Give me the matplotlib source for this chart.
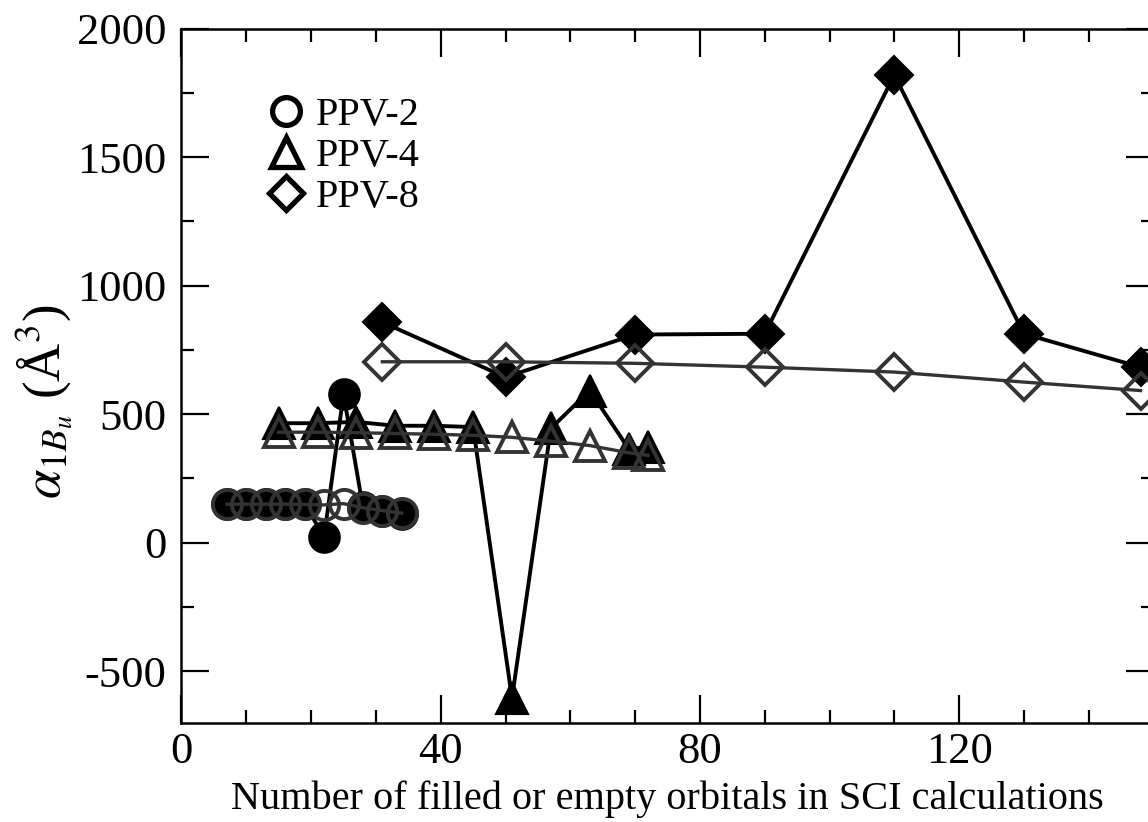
import matplotlib
matplotlib.use("Agg")
import matplotlib.pyplot as plt
from matplotlib.lines import Line2D
from matplotlib.ticker import MultipleLocator

plt.rcParams['font.family'] = ['Liberation Serif', 'DejaVu Serif']
plt.rcParams['mathtext.fontset'] = 'stix'
plt.rcParams['axes.unicode_minus'] = False

# PPV-2 (circles)
ppv2_x = [7, 10, 13, 16, 19, 22, 25, 28, 31, 34]
ppv2_filled = [152, 152, 152, 152, 152, 22, 578, 138, 125, 112]
ppv2_open = [150, 150, 150, 150, 149, 147, 152, 136, 125, 115]

# PPV-4 (triangles)
ppv4_x = [15, 21, 27, 33, 39, 45, 51, 57, 63, 69, 72]
ppv4_filled = [465, 465, 470, 455, 455, 450, -605, 445, 592, 366, 371]
ppv4_open = [430, 430, 428, 425, 422, 418, 410, 395, 378, 350, 340]

# PPV-8 (diamonds)
ppv8_x = [31, 50, 70, 90, 110, 130, 148]
ppv8_filled = [858, 644, 810, 813, 1820, 813, 683]
ppv8_open = [704, 704, 698, 683, 664, 625, 592]

legend_names = ["PPV-2", "PPV-4", "PPV-8"]

fig = plt.figure(figsize=(11.48, 8.22), dpi=100)
ax = fig.add_axes([0.1581, 0.1209, 1.0048 - 0.1581, 0.9651 - 0.1209])

gray = '#333333'
style_f = dict(color='black', lw=2.8, mfc='black', mec='black', mew=1.5)
style_o = dict(color=gray, lw=2.4, mfc='none', mec=gray, mew=2.8)

ax.plot(ppv4_x, ppv4_filled, marker='^', ms=23, **style_f)
ax.plot(ppv8_x, ppv8_filled, marker='D', ms=19, **style_f)
ax.plot(ppv2_x, ppv2_filled, marker='o', ms=22, **style_f)
ax.plot(ppv4_x, ppv4_open, marker='^', ms=21, **style_o)
ax.plot(ppv8_x, ppv8_open, marker='D', ms=18, **style_o)
ax.plot(ppv2_x, ppv2_open, marker='o', ms=21, **style_o)

ax.set_xlim(0, 150)
ax.set_ylim(-700, 2000)
ax.xaxis.set_major_locator(MultipleLocator(40))
ax.xaxis.set_minor_locator(MultipleLocator(10))
ax.yaxis.set_major_locator(MultipleLocator(500))
ax.yaxis.set_minor_locator(MultipleLocator(250))
ax.tick_params(which='both', direction='in', top=True, right=True, width=1.6)
ax.tick_params(which='major', length=20, labelsize=32)
ax.tick_params(which='minor', length=9.5)
ax.tick_params(axis='y', pad=11)
ax.tick_params(axis='x', pad=7)
for s in ax.spines.values():
    s.set_linewidth(1.8)

ax.set_xlabel("Number of filled or empty orbitals in SCI calculations",
              fontsize=29, labelpad=6)
fig.text(44 / 1148, 1 - 402 / 822, r"$\alpha_{1B_u}$ (Å$^3$)", rotation=90,
         ha='center', va='center', fontsize=38)

handles = [Line2D([], [], ls='', marker=m, ms=s, mfc='none', mec='black', mew=3.8)
           for m, s in zip(['o', '^', 'D'], [20, 22, 17])]
ax.legend(handles, legend_names, loc='upper left', bbox_to_anchor=(0.068, 0.925),
          frameon=False, fontsize=29, handletextpad=0.2, labelspacing=0.1,
          handlelength=1.1, borderaxespad=0)

fig.savefig("out.png", dpi=100)
